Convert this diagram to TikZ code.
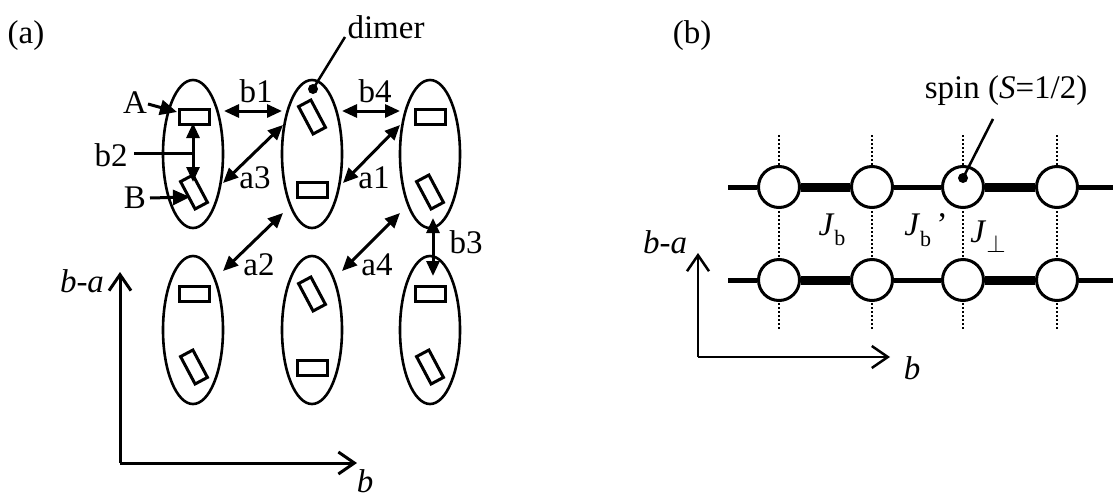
\documentclass[tikz,border=0pt]{standalone}
\usepackage{fontspec}
\setmainfont{Liberation Serif}
\usetikzlibrary{arrows.meta,shapes.geometric}
\newcommand{\subb}{\raisebox{-0.32em}{\fontsize{22}{26}\selectfont b}}
\begin{document}
\begin{tikzpicture}[x=1pt,y=-1pt,
 ell/.style={draw,ellipse,line width=2.6pt,minimum width=60pt,minimum height=148pt,inner sep=0pt},
 molh/.style={draw,rectangle,line width=3pt,minimum width=30pt,minimum height=15pt,inner sep=0pt},
 molt/.style={molh,minimum height=14pt,minimum width=31pt,rotate=-62},
 dbl/.style={line width=3pt,{Triangle[length=15pt,width=13pt]}-{Triangle[length=15pt,width=13pt]}},
 ptr/.style={line width=3pt,-{Triangle[length=17pt,width=15pt]}},
 lbl/.style={font=\fontsize{33}{38}\selectfont,inner sep=0pt},
 axisa/.style={line width=3pt,-{Straight Barb[length=16pt,width=22pt]}},
 axisb/.style={line width=2.5pt,-{Straight Barb[length=16pt,width=22pt]}},
 site/.style={draw,circle,line width=3pt,fill=white,minimum size=41pt,inner sep=0pt},
 thinb/.style={line width=5pt},
 thickb/.style={line width=9pt},
 perp/.style={dotted,line width=2pt}
]
\useasboundingbox (0,0) rectangle (1113,498);

% ---------------- panel (a) ----------------
\node[lbl] (la) at (26,36) {(a)};

\node[ell] (e1) at (193,154) {};
\node[ell] (e2) at (312,154) {};
\node[ell] (e3) at (430,154) {};
\node[ell] (e4) at (193,330) {};
\node[ell] (e5) at (312,330) {};
\node[ell] (e6) at (430,330) {};

\node[molh] (r1a) at (194,117) {};
\node[molt] (r1b) at (194,192) {};
\node[molt] (r2a) at (312,117) {};
\node[molh] (r2b) at (312,190) {};
\node[molh] (r3a) at (430,117) {};
\node[molt] (r3b) at (430,192) {};
\node[molh] (r4a) at (194,294) {};
\node[molt] (r4b) at (194,367) {};
\node[molt] (r5a) at (312,294) {};
\node[molh] (r5b) at (312,368) {};
\node[molh] (r6a) at (430,294) {};
\node[molt] (r6b) at (430,367) {};

% arrow end points
\coordinate (b1s) at (224,111); \coordinate (b1e) at (282,111);
\coordinate (b4s) at (342,111); \coordinate (b4e) at (400,111);
\coordinate (a3s) at (223,183); \coordinate (a3e) at (283,125);
\coordinate (a1s) at (343,183); \coordinate (a1e) at (400,125);
\coordinate (a2s) at (223,271); \coordinate (a2e) at (283,213);
\coordinate (a4s) at (342,271); \coordinate (a4e) at (400,213);
\coordinate (b3s) at (433,218); \coordinate (b3e) at (433,276);
\coordinate (b2s) at (193,123); \coordinate (b2e) at (193,182);
\coordinate (b2m) at (193,153);

\draw[dbl] (b1s) -- (b1e);
\draw[dbl] (b4s) -- (b4e);
\draw[dbl] (a3s) -- (a3e);
\draw[dbl] (a1s) -- (a1e);
\draw[dbl] (a2s) -- (a2e);
\draw[dbl] (a4s) -- (a4e);
\draw[dbl] (b3s) -- (b3e);
\draw[dbl] (b2s) -- (b2e);

\node[lbl] (tb1) at (256,91) {b1};
\node[lbl] (tb4) at (375,91) {b4};
\node[lbl] (ta3) at (255,178) {a3};
\node[lbl] (ta1) at (374,178) {a1};
\node[lbl] (ta2) at (259,265) {a2};
\node[lbl] (ta4) at (377,265) {a4};
\node[lbl] (tb3) at (466,242) {b3};
\node[lbl] (tb2) at (111,155) {b2};
\node[lbl] (tA) at (135,103) {A};
\node[lbl] (tB) at (135,198) {B};

\coordinate (b2l) at (134,153);
\draw[line width=3pt] (b2l) -- (b2m);
\coordinate (As) at (148,104); \coordinate (Ae) at (177,112);
\draw[ptr] (As) -- (Ae);
\coordinate (Bs) at (150,198); \coordinate (Be) at (190,197);
\draw[ptr] (Bs) -- (Be);

% dimer label
\node[lbl] (tdimer) at (386,27) {dimer};
\fill (313,89) circle (5pt) coordinate (ddot);
\coordinate (dl) at (345,37);
\draw[line width=2.5pt] (ddot) -- (dl);

% axes (a)
\coordinate (oa) at (120,463);
\coordinate (ya) at (120,272);
\coordinate (xa) at (357,463);
\draw[axisa] (oa) -- (ya);
\draw[axisa] (oa) -- (xa);
\node[lbl] (tba) at (82,281) {\textit{b}-\textit{a}};
\node[lbl] (tbx) at (365,481) {\textit{b}};

% ---------------- panel (b) ----------------
\node[lbl] (lb) at (692,36) {(b)};

\foreach \i/\x in {1/779,2/872,3/963,4/1057}{
  \coordinate (v\i t) at (\x,135);
  \coordinate (v\i b) at (\x,330);
  \draw[perp] (v\i t) -- (v\i b);
}
\coordinate (tl) at (728,187); \coordinate (tr) at (1113,187);
\coordinate (bl) at (728,280); \coordinate (br) at (1113,280);

\node[site] (c1) at (779,187) {};
\node[site] (c2) at (872,187) {};
\node[site] (c3) at (963,187) {};
\node[site] (c4) at (1057,187) {};
\node[site] (d1) at (779,280) {};
\node[site] (d2) at (872,280) {};
\node[site] (d3) at (963,280) {};
\node[site] (d4) at (1057,280) {};

\draw[thinb] (tl) -- (c1);
\draw[thickb] (c1) -- (c2);
\draw[thinb] (c2) -- (c3);
\draw[thickb] (c3) -- (c4);
\draw[thinb] (c4) -- (tr);
\draw[thinb] (bl) -- (d1);
\draw[thickb] (d1) -- (d2);
\draw[thinb] (d2) -- (d3);
\draw[thickb] (d3) -- (d4);
\draw[thinb] (d4) -- (br);

\node[lbl] (tJb) at (832,230) {\textit{J}\subb};
\node[lbl] (tJbp) at (926,230) {\textit{J}\subb\,’};
\node[lbl] (tJp) at (988,237) {\textit{J}\raisebox{-0.3em}{$\perp$}};

\node[lbl] (tspin) at (1006,91) {spin (\textit{S}=1/2)};
\fill (963,178) circle (5pt) coordinate (sdot);
\coordinate (sl) at (993,119);
\draw[line width=2.5pt] (sdot) -- (sl);

% axes (b)
\coordinate (ob) at (698,357);
\coordinate (yb) at (698,253);
\coordinate (xb) at (890,357);
\draw[axisb] (ob) -- (yb);
\draw[axisb] (ob) -- (xb);
\node[lbl] (tbab) at (665,242) {\textit{b}-\textit{a}};
\node[lbl] (tbxb) at (912,368) {\textit{b}};
\end{tikzpicture}
\end{document}
